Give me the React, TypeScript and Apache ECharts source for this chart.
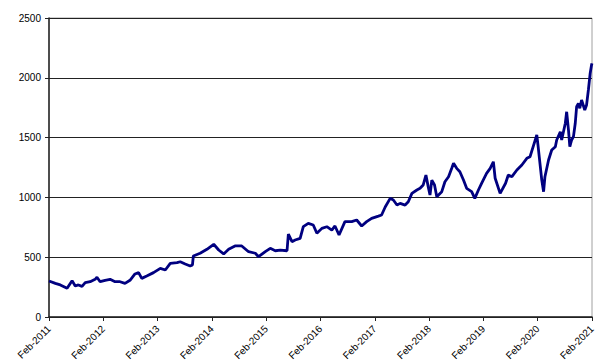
import React, { useEffect, useRef } from "react";
import * as echarts from "echarts";

// Months elapsed since Feb-2011 for each reading
const monthOffsets = [
  0, 1.4, 2.5, 4.0, 5.1, 5.8, 6.5, 7.3, 8.0, 9.1, 10.2, 10.6, 11.3, 12.4, 13.5, 14.6, 15.7, 16.8, 17.9,
  19.0, 19.8, 20.5, 21.6, 23.1, 24.6, 25.7, 26.8, 28.3, 29.0, 30.1, 31.2, 31.7, 31.9, 33.4, 34.9, 36.4,
  37.5, 38.6, 39.7, 41.1, 42.6, 44.1, 45.6, 46.3, 47.8, 48.9, 50.0, 51.1, 52.6, 52.9, 53.7, 54.4, 55.5,
  56.2, 57.3, 58.4, 59.2, 60.3, 61.4, 62.5, 63.2, 64.1, 65.4, 66.9, 68.0, 69.1, 70.2, 71.3, 72.8, 73.5,
  74.3, 75.4, 76.1, 76.9, 77.6, 78.7, 79.4, 80.2, 81.3, 82.0, 82.7, 83.3, 83.8, 84.2, 84.6, 85.2, 85.7,
  86.8, 87.5, 88.3, 89.0, 89.4, 90.1, 90.8, 91.6, 92.3, 93.4, 94.1, 94.9, 95.6, 96.7, 97.5, 98.2, 98.6,
  99.7, 100.9, 101.5, 102.3, 103.4, 104.5, 105.6, 106.3, 107.0, 107.8, 108.1, 108.5, 108.9, 109.3,
  109.6, 110.4, 111.1, 111.9, 112.2, 113.0, 113.3, 114.1, 114.4, 114.8, 115.1, 115.5, 115.9, 116.3,
  116.6, 117.0, 117.3, 117.7, 118.4, 118.8, 119.2, 119.6, 119.9, 120.0,
];

const prices = [
  301, 281, 268, 240, 304, 259, 268, 256, 287, 295, 315, 332, 295, 307, 315, 295, 295, 281, 307,
  360, 371, 323, 343, 371, 407, 393, 449, 454, 462, 443, 426, 435, 510, 533, 566, 608,
  560, 527, 566, 594, 594, 546, 533, 504, 546, 574, 554, 560, 554, 694, 630, 644, 658,
  755, 783, 769, 700, 741, 755, 727, 761, 686, 797, 797, 811, 761, 797, 825, 844, 853,
  920, 992, 978, 936, 950, 936, 964, 1034, 1062, 1076, 1104, 1187, 1090, 1020, 1145, 1104, 1006,
  1048, 1131, 1173, 1243, 1285, 1243, 1215, 1145, 1076, 1048, 992, 1062, 1118, 1201, 1243, 1298, 1160,
  1034, 1118, 1187, 1173, 1229, 1271, 1327, 1340, 1424, 1522, 1424, 1285, 1145, 1048,
  1173, 1313, 1396, 1424, 1480, 1549, 1480, 1620, 1716, 1564, 1424, 1480, 1508, 1620,
  1758, 1787, 1745, 1814, 1731, 1773, 1898, 2038, 2107, 2120,
];

const yearLabels = [
  "Feb-2011", "Feb-2012", "Feb-2013", "Feb-2014", "Feb-2015", "Feb-2016",
  "Feb-2017", "Feb-2018", "Feb-2019", "Feb-2020", "Feb-2021",
];

const yTicks = [0, 500, 1000, 1500, 2000, 2500];

export default function App() {
  const ref = useRef<HTMLDivElement>(null);

  useEffect(() => {
    if (!ref.current) return;
    const chart = echarts.init(ref.current, null, { renderer: "svg" });
    const font = 'Arial, "Liberation Sans", sans-serif';
    chart.setOption({
      animation: false,
      backgroundColor: "#ffffff",
      grid: {
        left: 49,
        right: 19,
        top: 18,
        bottom: 46,
        show: true,
        borderColor: "#a0a0a0",
        borderWidth: 1,
        backgroundColor: "transparent",
        containLabel: false,
        outerBoundsMode: "none",
      },
      xAxis: {
        type: "value",
        min: 0,
        max: (yearLabels.length - 1) * 12,
        interval: 12,
        axisLine: { show: true, onZero: false, lineStyle: { color: "#222", width: 1.5 } },
        axisTick: { show: true, length: 4, lineStyle: { color: "#222" } },
        splitLine: { show: false },
        axisLabel: {
          rotate: 45,
          margin: 10,
          hideOverlap: false,
          color: "#000",
          fontSize: 10,
          fontFamily: font,
          formatter: (v: number) => yearLabels[Math.round(v / 12)] ?? "",
        },
      },
      yAxis: {
        type: "value",
        min: yTicks[0],
        max: yTicks[yTicks.length - 1],
        interval: 500,
        axisLine: { show: true, lineStyle: { color: "#222", width: 1.5 } },
        axisTick: { show: true, length: 4, lineStyle: { color: "#222" } },
        splitLine: { show: true, lineStyle: { color: "#222", width: 1 } },
        axisLabel: {
          margin: 8,
          color: "#000",
          fontSize: 10,
          fontFamily: font,
          formatter: (v: number) => String(v),
        },
      },
      series: [
        {
          type: "line",
          data: monthOffsets.map((m, i) => [m, prices[i]]),
          showSymbol: false,
          lineStyle: { color: "#000080", width: 2.8 },
          itemStyle: { color: "#000080" },
        },
      ],
    });
    return () => chart.dispose();
  }, []);

  return (
    <div
      ref={ref}
      style={{ position: "fixed", left: 0, top: 0, width: 611, height: 363, background: "#fff" }}
    />
  );
}
